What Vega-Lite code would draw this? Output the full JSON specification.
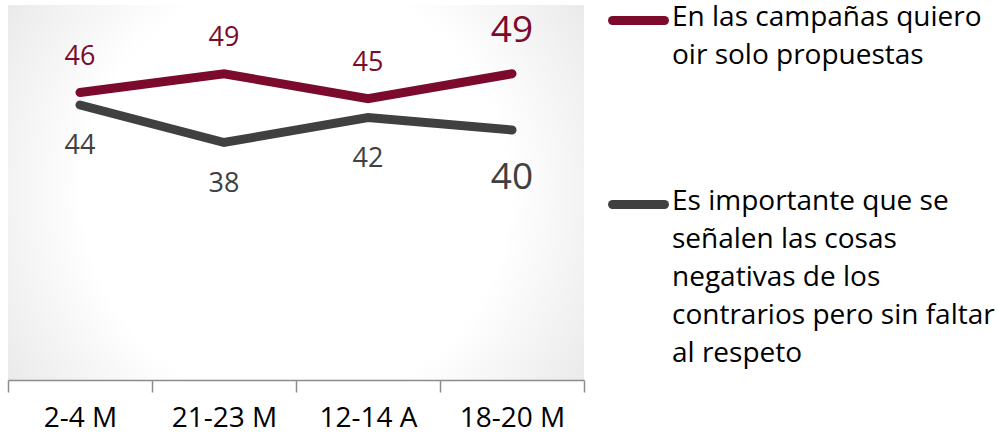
{
  "$schema": "https://vega.github.io/schema/vega-lite/v6.json",
  "autosize": {"type": "none"},
  "padding": {"left": 8, "top": 5, "right": 414, "bottom": 56},
  "width": 576,
  "height": 375,
  "background": "white",
  "config": {
    "view": {
      "stroke": null,
      "fill": {
        "gradient": "radial",
        "x1": 0.5, "y1": 0.5, "r1": 0,
        "x2": 0.5, "y2": 0.5, "r2": 0.82,
        "stops": [
          {"offset": 0, "color": "#ffffff"},
          {"offset": 0.45, "color": "#ffffff"},
          {"offset": 0.61, "color": "#f3f3f3"},
          {"offset": 1, "color": "#d6d6d6"}
        ]
      }
    },
    "font": "Open Sans"
  },
  "data": {
    "values": [
      {"periodo": "2-4 M", "serie": "En las campañas quiero oir solo propuestas", "valor": 46},
      {"periodo": "21-23 M", "serie": "En las campañas quiero oir solo propuestas", "valor": 49},
      {"periodo": "12-14 A", "serie": "En las campañas quiero oir solo propuestas", "valor": 45},
      {"periodo": "18-20 M", "serie": "En las campañas quiero oir solo propuestas", "valor": 49},
      {"periodo": "2-4 M", "serie": "Es importante que se señalen las cosas negativas de los contrarios pero sin faltar al respeto", "valor": 44},
      {"periodo": "21-23 M", "serie": "Es importante que se señalen las cosas negativas de los contrarios pero sin faltar al respeto", "valor": 38},
      {"periodo": "12-14 A", "serie": "Es importante que se señalen las cosas negativas de los contrarios pero sin faltar al respeto", "valor": 42},
      {"periodo": "18-20 M", "serie": "Es importante que se señalen las cosas negativas de los contrarios pero sin faltar al respeto", "valor": 40}
    ]
  },
  "encoding": {
    "x": {
      "field": "periodo",
      "type": "nominal",
      "sort": ["2-4 M", "21-23 M", "12-14 A", "18-20 M"],
      "bandPosition": 0.5,
      "scale": {"type": "band", "paddingInner": 0, "paddingOuter": 0},
      "axis": {
        "title": null,
        "labelAngle": 0,
        "labelFontSize": 28,
        "labelColor": "#000000",
        "labelPadding": 12,
        "tickBand": "extent",
        "tickExtra": true,
        "tickSize": 12,
        "tickColor": "#8c8c8c",
        "tickWidth": 1.5,
        "domainColor": "#8c8c8c",
        "domainWidth": 1.5
      }
    },
    "y": {
      "field": "valor",
      "type": "quantitative",
      "scale": {"domain": [0, 60]},
      "axis": null
    }
  },
  "layer": [
    {
      "mark": {"type": "line", "strokeWidth": 9, "strokeCap": "round", "strokeJoin": "miter"},
      "encoding": {
        "color": {
          "field": "serie",
          "type": "nominal",
          "scale": {
            "domain": ["En las campañas quiero oir solo propuestas", "Es importante que se señalen las cosas negativas de los contrarios pero sin faltar al respeto"],
            "range": ["#7b0a2c", "#404040"]
          },
          "legend": {
            "title": null,
            "orient": "none",
            "legendX": 600,
            "legendY": -15,
            "symbolType": "stroke",
            "symbolSize": 2700,
            "symbolStrokeWidth": 9,
            "labelFontSize": 28,
            "labelColor": "#000000",
            "labelLimit": 500,
            "labelOffset": 3,
            "labelBaseline": "top",
            "rowPadding": 104,
            "labelExpr": "datum.label == 'En las campañas quiero oir solo propuestas' ? ['En las campañas quiero', 'oir solo propuestas'] : ['Es importante que se', 'señalen las cosas', 'negativas de los', 'contrarios pero sin faltar', 'al respeto']",
            "encode": {
              "symbols": {"update": {"strokeCap": {"value": "round"}}},
              "labels": {"update": {"lineHeight": {"value": 38}, "dy": {"value": -17}}}
            }
          }
        }
      }
    },
    {
      "transform": [{"filter": "datum.serie == 'En las campañas quiero oir solo propuestas' && datum.periodo != '18-20 M'"}],
      "mark": {"type": "text", "fontSize": 27, "color": "#7b0a2c", "dy": -36, "baseline": "middle"},
      "encoding": {"text": {"field": "valor", "type": "quantitative"}}
    },
    {
      "transform": [{"filter": "datum.serie == 'En las campañas quiero oir solo propuestas' && datum.periodo == '18-20 M'"}],
      "mark": {"type": "text", "fontSize": 37, "color": "#7b0a2c", "dy": -43, "baseline": "middle"},
      "encoding": {"text": {"field": "valor", "type": "quantitative"}}
    },
    {
      "transform": [{"filter": "datum.serie != 'En las campañas quiero oir solo propuestas' && datum.periodo != '18-20 M'"}],
      "mark": {"type": "text", "fontSize": 27, "color": "#404040", "dy": 41, "baseline": "middle"},
      "encoding": {"text": {"field": "valor", "type": "quantitative"}}
    },
    {
      "transform": [{"filter": "datum.serie != 'En las campañas quiero oir solo propuestas' && datum.periodo == '18-20 M'"}],
      "mark": {"type": "text", "fontSize": 37, "color": "#404040", "dy": 48, "baseline": "middle"},
      "encoding": {"text": {"field": "valor", "type": "quantitative"}}
    }
  ]
}
